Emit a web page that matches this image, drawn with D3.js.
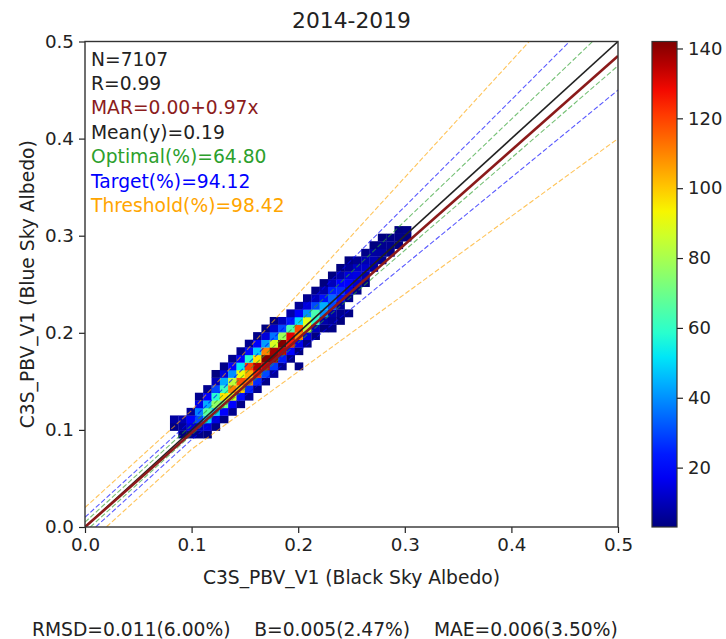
<!DOCTYPE html>
<html>
<head>
<meta charset="utf-8">
<script src="https://cdn.jsdelivr.net/npm/d3@7"></script>
<style>
body{margin:0;background:#fff;}
text{font-family:"DejaVu Sans",sans-serif;fill:#222;}
</style>
</head>
<body>
<div id="chart"></div>
<script>
// histogram grid (bin edges in albedo units)
const binX0 = 0.0797, binY0 = 0.0915, binSize = 0.0078;
// for each column: first row index, then counts going up (0 = empty bin)
const colStart = [1, 0, 0, 0, 0, 1, 2, 3, 4, 5, 6, 7, 8, 9, 10, 9, 12, 13, 14, 14, 15, 16, 19, 20, 22, 23, 24, 25, 26];
const colCounts = [
  [4, 7],
  [3, 6, 9],
  [5, 14, 18, 6],
  [4, 10, 30, 38, 16, 5],
  [3, 14, 48, 66, 44, 18, 5],
  [4, 14, 48, 76, 58, 30, 10, 3],
  [3, 18, 70, 96, 62, 44, 14, 4],
  [5, 20, 88, 110, 84, 40, 18, 5],
  [4, 22, 100, 118, 92, 52, 20, 5],
  [6, 26, 112, 104, 120, 58, 22, 5],
  [5, 26, 124, 136, 96, 48, 18, 4],
  [4, 30, 132, 142, 110, 42, 14, 3],
  [6, 28, 140, 138, 88, 36, 12, 3],
  [5, 24, 134, 142, 78, 30, 10],
  [4, 20, 126, 130, 64, 24, 8],
  [4, 0, 3, 16, 110, 118, 50, 18, 6],
  [4, 14, 84, 90, 40, 14, 5],
  [3, 10, 58, 64, 30, 10, 4],
  [3, 8, 40, 44, 22, 8, 3],
  [4, 6, 8, 30, 34, 24, 10, 3],
  [3, 5, 6, 22, 26, 18, 8, 3],
  [4, 0, 5, 16, 20, 14, 6, 3],
  [4, 12, 15, 11, 5],
  [3, 9, 12, 9, 4],
  [7, 9, 7, 3],
  [5, 7, 5, 3],
  [4, 5, 4],
  [3, 4, 3],
  [3, 4]
];
const axisTicks = [0.0, 0.1, 0.2, 0.3, 0.4, 0.5];
const cbTicks = [20, 40, 60, 80, 100, 120, 140];
const countRange = [3, 142];
const marIntercept = 0.00, marSlope = 0.97;
const levelPct = [0.05, 0.10, 0.20];
const levelAbs = [0.005, 0.01, 0.02];
const levelColors = ['#2ca02c', 'blue', 'orange'];
const statLines = ['N=7107', 'R=0.99', 'MAR=0.00+0.97x', 'Mean(y)=0.19', 'Optimal(%)=64.80', 'Target(%)=94.12', 'Threshold(%)=98.42'];
const statColors = ['#222', '#222', '#8b1c1c', '#222', '#2ca02c', 'blue', 'orange'];
const titleText = '2014-2019';
const xLabel = 'C3S_PBV_V1 (Black Sky Albedo)';
const yLabel = 'C3S_PBV_V1 (Blue Sky Albedo)';
const footer = 'RMSD=0.011(6.00%)    B=0.005(2.47%)    MAE=0.006(3.50%)';

const W = 726, H = 639;
const pLeft = 85, pRight = 618, pTop = 41.5, pBottom = 527;
const cbLeft = 652, cbWidth = 25;
const fs = 18.7;

const svg = d3.select('#chart').append('svg').attr('width', W).attr('height', H);

const x = d3.scaleLinear().domain([0, 0.5]).range([pLeft, pRight]);
const y = d3.scaleLinear().domain([0, 0.5]).range([pBottom, pTop]);

// jet colormap
const jr = d3.scaleLinear().domain([0, 0.35, 0.66, 0.89, 1]).range([0, 0, 1, 1, 0.5]).clamp(true);
const jg = d3.scaleLinear().domain([0, 0.125, 0.375, 0.64, 0.91, 1]).range([0, 0, 1, 1, 0, 0]).clamp(true);
const jb = d3.scaleLinear().domain([0, 0.11, 0.34, 0.65, 1]).range([0.5, 1, 1, 0, 0]).clamp(true);
const jet = t => d3.rgb(jr(t) * 255, jg(t) * 255, jb(t) * 255).toString();
const norm = d3.scaleLinear().domain(countRange).range([0, 1]).clamp(true);

const defs = svg.append('defs');
defs.append('clipPath').attr('id', 'plotclip')
  .append('rect').attr('x', pLeft).attr('y', pTop).attr('width', pRight - pLeft).attr('height', pBottom - pTop);

// cells
let cells = [];
colCounts.forEach((col, k) => {
  col.forEach((c, i) => { if (c > 0) cells.push({k: k, m: colStart[k] + i, c: c}); });
});
const g = svg.append('g').attr('clip-path', 'url(#plotclip)');
g.selectAll('rect.cell').data(cells).enter().append('rect')
  .attr('x', d => x(binX0 + d.k * binSize))
  .attr('y', d => y(binY0 + (d.m + 1) * binSize))
  .attr('width', x(binSize) - x(0) + 0.3)
  .attr('height', y(0) - y(binSize) + 0.3)
  .attr('fill', d => jet(norm(d.c)));

// requirement envelopes
const line = d3.line().x(d => x(d[0])).y(d => y(d[1]));
levelPct.forEach((p, i) => {
  let brk = levelAbs[i] / p;
  let up = [[0, levelAbs[i]], [brk, brk + levelAbs[i]], [0.5, 0.5 * (1 + p)]];
  let lo = [[0, -levelAbs[i]], [brk, brk - levelAbs[i]], [0.5, 0.5 * (1 - p)]];
  [up, lo].forEach(pts => {
    g.append('path').attr('d', line(pts)).attr('fill', 'none')
      .attr('stroke', levelColors[i]).attr('stroke-width', 1.1).attr('stroke-opacity', 0.65)
      .attr('stroke-dasharray', '5,2.3');
  });
});
// 1:1
g.append('path').attr('d', line([[0, 0], [0.5, 0.5]])).attr('fill', 'none')
  .attr('stroke', '#222').attr('stroke-width', 1.6);
// MAR fit
g.append('path').attr('d', line([[0, marIntercept], [0.5, marIntercept + marSlope * 0.5]])).attr('fill', 'none')
  .attr('stroke', '#8b1a1a').attr('stroke-width', 2.6);

// axes
const xAxis = svg.append('g').attr('transform', `translate(0,${pBottom})`)
  .call(d3.axisBottom(x).tickValues(axisTicks).tickFormat(d3.format('.1f')).tickSize(6).tickPadding(5));
const yAxis = svg.append('g').attr('transform', `translate(${pLeft},0)`)
  .call(d3.axisLeft(y).tickValues(axisTicks).tickFormat(d3.format('.1f')).tickSize(6).tickPadding(5));
[xAxis, yAxis].forEach(a => {
  a.select('.domain').remove();
  a.selectAll('line').attr('stroke', '#222').attr('stroke-width', 1.2);
  a.selectAll('text').attr('font-size', 18.3).attr('font-family', '"DejaVu Sans",sans-serif').attr('fill', '#222');
});
svg.append('rect').attr('x', pLeft).attr('y', pTop).attr('width', pRight - pLeft).attr('height', pBottom - pTop)
  .attr('fill', 'none').attr('stroke', '#333').attr('stroke-width', 1.4);

// stats text
statLines.forEach((s, i) => {
  svg.append('text').attr('x', 91).attr('y', 65.5 + i * 24.4)
    .attr('font-size', fs).style('fill', statColors[i]).text(s);
});

// title and labels
svg.append('text').attr('x', (pLeft + pRight) / 2).attr('y', 28).attr('text-anchor', 'middle')
  .attr('font-size', 21.8).text(titleText);
svg.append('text').attr('x', (pLeft + pRight) / 2).attr('y', 584).attr('text-anchor', 'middle')
  .attr('font-size', fs).text(xLabel);
svg.append('text').attr('transform', `translate(34,${(pTop + pBottom) / 2}) rotate(-90)`).attr('text-anchor', 'middle')
  .attr('font-size', fs).text(yLabel);
svg.append('text').attr('x', 32).attr('y', 636).attr('font-size', fs)
  .attr('xml:space', 'preserve').style('white-space', 'pre').text(footer);

// colorbar
const cbScale = d3.scaleLinear().domain(countRange).range([pBottom, pTop]);
const grad = defs.append('linearGradient').attr('id', 'jetgrad')
  .attr('x1', 0).attr('y1', 1).attr('x2', 0).attr('y2', 0);
d3.range(0, 1.0001, 0.05).forEach(t => {
  grad.append('stop').attr('offset', t).attr('stop-color', jet(t));
});
svg.append('rect').attr('x', cbLeft).attr('y', pTop).attr('width', cbWidth).attr('height', pBottom - pTop)
  .attr('fill', 'url(#jetgrad)').attr('stroke', '#333').attr('stroke-width', 1.2);
const cbAxis = svg.append('g').attr('transform', `translate(${cbLeft + cbWidth},0)`)
  .call(d3.axisRight(cbScale).tickValues(cbTicks).tickSize(6).tickPadding(5));
cbAxis.select('.domain').remove();
cbAxis.selectAll('line').attr('stroke', '#222').attr('stroke-width', 1.2);
cbAxis.selectAll('text').attr('font-size', 18).attr('font-family', '"DejaVu Sans",sans-serif').attr('fill', '#222');
</script>
</body>
</html>
